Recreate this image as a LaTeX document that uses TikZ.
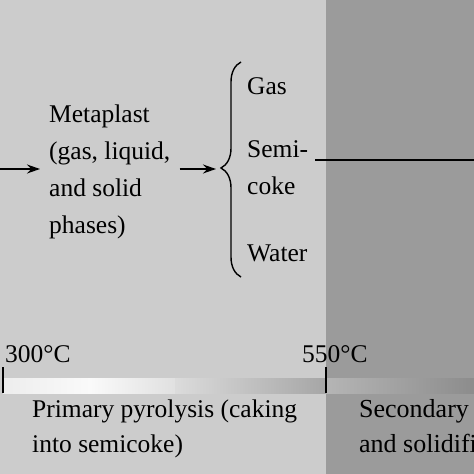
\documentclass[tikz,border=0pt]{standalone}
\usepackage{fontspec}
\setmainfont{Liberation Serif}
\usetikzlibrary{arrows.meta,decorations.pathreplacing}
\definecolor{lightbg}{HTML}{CCCCCC}
\definecolor{darkbg}{HTML}{9B9B9B}
\begin{document}
\begin{tikzpicture}[x=1pt,y=-1pt,
  txt/.style={font=\fontsize{25.5}{37}\selectfont, inner sep=0pt, anchor=base west},
  btxt/.style={font=\fontsize{25.5}{35}\selectfont, inner sep=0pt, anchor=base west},
  conn/.style={line width=1.5pt, -{Stealth[length=13pt,width=9pt]}},
  rule/.style={line width=1.5pt}]
\useasboundingbox (0,0) rectangle (474,474);
\clip (0,0) rectangle (474,474);
% backgrounds
\fill[lightbg] (0,0) rectangle (326,474);
\fill[darkbg] (326,0) rectangle (474,474);
% temperature bar
\shade[left color=black!7, right color=black!2] (3,378) rectangle (90,393);
\shade[left color=black!2, right color=black!12] (90,378) rectangle (175,393);
\shade[left color=black!14, right color=black!35] (175,378) rectangle (326,393);
\shade[left color=black!29, right color=black!45] (326,378) rectangle (474,393);
% top part (base anchor of a multi-line node = baseline of its last line)
\coordinate (in) at (0,169);
\node[txt, align=left, inner xsep=9pt] (meta) at (40,233) {Metaplast\\(gas, liquid,\\and solid\\phases)};
\coordinate (tip) at (216,169);
\draw[conn] (in) -- (in -| meta.west);
\draw[conn] (in -| meta.east) -- (tip);
\draw[line width=1.4pt, decorate, decoration={brace, amplitude=20pt, aspect=0.507}] (241,277) -- (241,62);
\node[txt] (gas) at (247,94) {Gas};
\node[txt, align=left] (semi) at (247,194) {Semi-\\coke};
\node[txt] (water) at (247,261) {Water};
\coordinate (ls) at (315,160);
\coordinate (le) at (474,160);
\draw[rule] (ls) -- (le);
% bottom part
\node[btxt] (t300) at (5,362) {300°C};
\node[btxt] (t550) at (302,362) {550°C};
\coordinate (k1a) at (3,367); \coordinate (k1b) at (3,393);
\coordinate (k2a) at (326,367); \coordinate (k2b) at (326,393);
\draw[rule] (k1a) -- (k1b);
\draw[rule] (k2a) -- (k2b);
\node[btxt, align=left] (prim) at (32,452) {Primary pyrolysis (caking\\into semicoke)};
\node[btxt, align=left, font=\fontsize{26}{35}\selectfont] (sec) at (359,452) {Secondary pyrolysis\\and solidification};
\end{tikzpicture}
\end{document}
